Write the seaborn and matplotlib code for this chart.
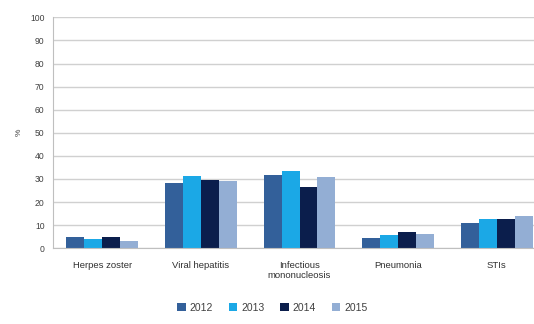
import matplotlib
matplotlib.use("Agg")
import matplotlib.pyplot as plt
import seaborn as sns
import pandas as pd

categories = ["Herpes zoster", "Viral hepatitis", "Infectious\nmononucleosis", "Pneumonia", "STIs"]
years = ["2012", "2013", "2014", "2015"]
values_2012 = [4.9, 28.1, 31.9, 4.6, 11.0]
values_2013 = [4.1, 31.4, 33.5, 5.8, 12.6]
values_2014 = [4.9, 29.4, 26.7, 7.0, 12.9]
values_2015 = [3.3, 29.3, 31.0, 6.1, 13.9]
y_ticks = list(range(0, 101, 10))

colors = ["#33609A", "#1BA8E6", "#0B1E4C", "#93AED4"]

rows = []
for year, vals in zip(years, [values_2012, values_2013, values_2014, values_2015]):
    for cat, v in zip(categories, vals):
        rows.append({"category": cat, "year": year, "value": v})
df = pd.DataFrame(rows)

sns.set_theme(style="white")
plt.rcParams["font.family"] = ["Liberation Sans", "DejaVu Sans"]

fig = plt.figure(figsize=(5.34, 3.24), dpi=100)
ax = fig.add_axes([53 / 534, (324 - 248.3) / 324, 493 / 534, 231 / 324])

sns.barplot(data=df, x="category", y="value", hue="year", palette=colors,
            width=0.73, gap=0, saturation=1, linewidth=0, ax=ax, legend=True)

ax.set_ylim(0, 100)
ax.set_xlim(-0.5, len(categories) - 0.5)
ax.set_yticks(y_ticks)
ax.yaxis.grid(True, color="#D0D0D0", linewidth=1.0)
ax.set_axisbelow(True)
for s in ["top", "right"]:
    ax.spines[s].set_visible(False)
ax.spines["left"].set_color("#BFBFBF")
ax.spines["bottom"].set_color("#BFBFBF")
ax.spines["left"].set_linewidth(0.8)
ax.spines["bottom"].set_linewidth(0.8)

ax.tick_params(axis="y", labelsize=6.2, colors="#404040", length=3, width=0.6,
               color="#BFBFBF", pad=3)
ax.tick_params(axis="x", labelsize=6.8, colors="#303030", length=0, pad=9)
ax.set_xlabel("")
ax.set_ylabel("%", fontsize=6, color="#404040", labelpad=5)

# minor ticks marking the category boundaries along the baseline
ax.set_xticks([i + 0.5 for i in range(-1, len(categories))], minor=True)
ax.tick_params(axis="x", which="minor", length=3, width=0.6, color="#BFBFBF")

handles, labels = ax.get_legend_handles_labels()
ax.legend_.remove()
fig.legend(handles, labels, loc="center", bbox_to_anchor=(0.51, 0.05), ncol=4,
           frameon=False, fontsize=7.5, handlelength=0.8, handleheight=0.8,
           handletextpad=0.4, columnspacing=1.5, labelcolor="#404040")

fig.savefig("out.png", dpi=100)
